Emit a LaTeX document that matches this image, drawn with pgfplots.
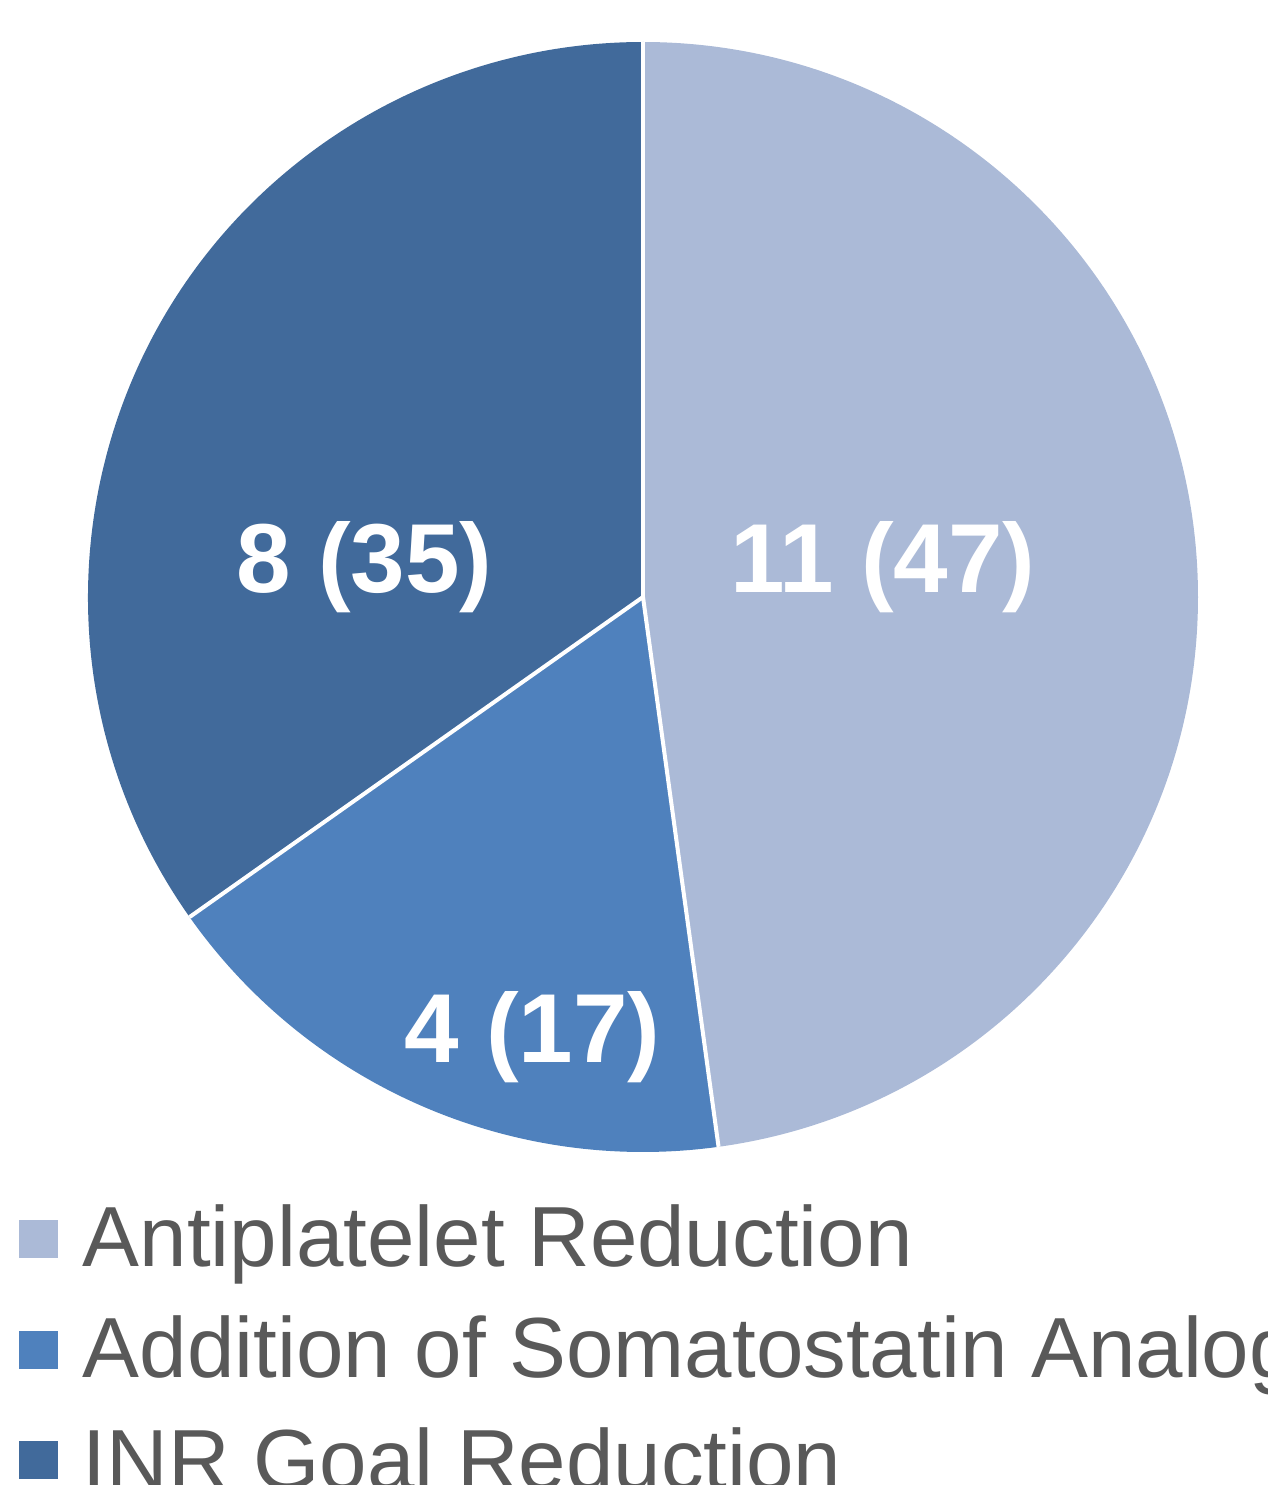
\documentclass[border=0pt]{standalone}
\usepackage{pgfplots}
\pgfplotsset{compat=1.18}
\usepackage{pgfplotstable}
\usepackage{fontspec}
\setmainfont{Liberation Sans}
\definecolor{cA}{RGB}{171,186,215}
\definecolor{cB}{RGB}{79,129,189}
\definecolor{cC}{RGB}{65,106,155}
\definecolor{legtext}{RGB}{89,89,89}
\pgfplotstableread{
label value pct
Antiplatelet 11 47
Addition 4 17
INR 8 35
}\piedata
\pgfplotstablegetelem{0}{value}\of\piedata \let\va\pgfplotsretval
\pgfplotstablegetelem{1}{value}\of\piedata \let\vb\pgfplotsretval
\pgfplotstablegetelem{2}{value}\of\piedata \let\vc\pgfplotsretval
\pgfplotstablegetelem{0}{pct}\of\piedata \let\pa\pgfplotsretval
\pgfplotstablegetelem{1}{pct}\of\piedata \let\pb\pgfplotsretval
\pgfplotstablegetelem{2}{pct}\of\piedata \let\pc\pgfplotsretval
\pgfmathsetmacro\tot{\va+\vb+\vc}
\pgfmathsetmacro\aA{90-360*\va/\tot}
\pgfmathsetmacro\aB{\aA-360*\vb/\tot}
\pgfmathsetmacro\aC{\aB-360*\vc/\tot}
\pgfmathsetmacro\xA{cos(\aA)}
\pgfmathsetmacro\yA{sin(\aA)}
\pgfmathsetmacro\xB{cos(\aB)}
\pgfmathsetmacro\yB{sin(\aB)}
\begin{document}
\begin{tikzpicture}[x=0.3pt,y=0.3pt]
\path[use as bounding box] (0,0) rectangle (1268,1485);
\clip (0,0) rectangle (1268,1485);
\begin{axis}[at={(192.9pt,266.4pt)}, anchor=center, scale only axis,
  width=333pt, height=333pt, xmin=-1, xmax=1, ymin=-1, ymax=1, hide axis, clip=false]
\fill[cA] (axis cs:0,0) -- (axis cs:0,1) arc[start angle=90, end angle=\aA, radius=166.5pt] -- cycle;
\fill[cB] (axis cs:0,0) -- (axis cs:\xA,\yA) arc[start angle=\aA, end angle=\aB, radius=166.5pt] -- cycle;
\fill[cC] (axis cs:0,0) -- (axis cs:\xB,\yB) arc[start angle=\aB, end angle=\aC, radius=166.5pt] -- cycle;
\draw[white, line width=1.2pt] (axis cs:0,0) -- (axis cs:0,1);
\draw[white, line width=1.2pt] (axis cs:0,0) -- (axis cs:\xA,\yA);
\draw[white, line width=1.2pt] (axis cs:0,0) -- (axis cs:\xB,\yB);
\node[anchor=base, text=white, inner sep=0pt, font=\fontsize{29.4pt}{30pt}\selectfont\bfseries] at (axis cs:0.4324,0.009) {\va\ (\pa)};
\node[anchor=base, text=white, inner sep=0pt, font=\fontsize{29.4pt}{30pt}\selectfont\bfseries] at (axis cs:-0.199,-0.8396) {\vb\ (\pb)};
\node[anchor=base, text=white, inner sep=0pt, font=\fontsize{29.4pt}{30pt}\selectfont\bfseries] at (axis cs:-0.502,0.0072) {\vc\ (\pc)};
\end{axis}
\fill[cA] (19,227) rectangle (58,265);
\fill[cB] (19,116) rectangle (58,154);
\fill[cC] (19,6) rectangle (58,44);
\node[anchor=base west, inner sep=0pt, text=legtext, font=\fontsize{25.6pt}{28pt}\selectfont] at (82,218) {Antiplatelet Reduction};
\node[anchor=base west, inner sep=0pt, text=legtext, font=\fontsize{25.6pt}{28pt}\selectfont] at (82,107) {Addition of Somatostatin Analog};
\node[anchor=base west, inner sep=0pt, text=legtext, font=\fontsize{25.6pt}{28pt}\selectfont] at (82,-4) {INR Goal Reduction};
\end{tikzpicture}
\end{document}
